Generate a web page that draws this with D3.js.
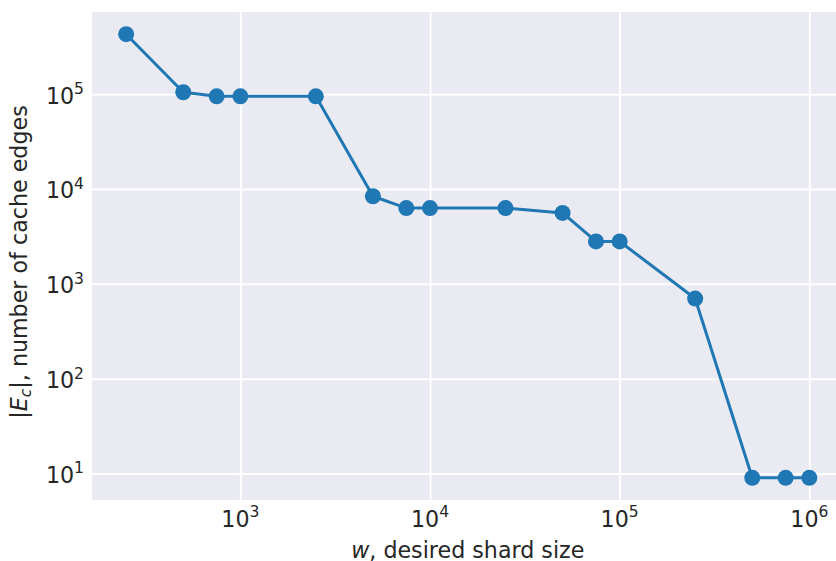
<!DOCTYPE html>
<html>
<head>
<meta charset="utf-8">
<script src="https://cdn.jsdelivr.net/npm/d3@7"></script>
<style>
  html, body { margin: 0; padding: 0; background: #fff; }
  svg { display: block; }
  text { font-family: "DejaVu Sans", sans-serif; fill: #262626; }
</style>
</head>
<body>
<svg id="chart" width="836" height="561"></svg>
<script>
// ---- data ----
const shardSizes = [250, 500, 750, 1000, 2500, 5000, 7500, 10000, 25000, 50000, 75000, 100000, 250000, 500000, 750000, 1000000];
const cacheEdges = [430000, 105000, 95000, 95000, 95000, 8400, 6300, 6300, 6300, 5600, 2800, 2800, 700, 9, 9, 9];
const xTickExponents = [3, 4, 5, 6];
const yTickExponents = [1, 2, 3, 4, 5];
const xLabel = "desired shard size";
const yLabelRest = ", number of cache edges";

// ---- layout ----
const plot = { left: 92, right: 843.5, top: 12, bottom: 500 };
const fontSize = 22.2;
const blue = "#1f77b4";

function logMargins(vals, frac) {
  const lo = Math.log10(d3.min(vals)), hi = Math.log10(d3.max(vals));
  const m = (hi - lo) * frac;
  return [Math.pow(10, lo - m), Math.pow(10, hi + m)];
}

const x = d3.scaleLog().domain(logMargins(shardSizes, 0.05)).range([plot.left, plot.right]);
const y = d3.scaleLog().domain(logMargins(cacheEdges, 0.05)).range([plot.bottom, plot.top]);

const svg = d3.select("#chart");

svg.append("clipPath").attr("id", "clip")
  .append("rect").attr("x", plot.left).attr("y", plot.top)
  .attr("width", plot.right - plot.left).attr("height", plot.bottom - plot.top);

// background
svg.append("rect")
  .attr("x", plot.left).attr("y", plot.top)
  .attr("width", plot.right - plot.left).attr("height", plot.bottom - plot.top)
  .attr("fill", "#eaeaf2");

const xTicks = xTickExponents.map(e => Math.pow(10, e));
const yTicks = yTickExponents.map(e => Math.pow(10, e));

// grid via axes
const gx = svg.append("g")
  .attr("transform", `translate(0,${plot.bottom})`)
  .call(d3.axisBottom(x).tickValues(xTicks).tickSize(-(plot.bottom - plot.top)).tickFormat(""));
gx.select(".domain").remove();
gx.selectAll(".tick line").attr("stroke", "#fff").attr("stroke-width", 2);

const gy = svg.append("g")
  .attr("transform", `translate(${plot.left},0)`)
  .call(d3.axisLeft(y).tickValues(yTicks).tickSize(-(plot.right - plot.left)).tickFormat(""));
gy.select(".domain").remove();
gy.selectAll(".tick line").attr("stroke", "#fff").attr("stroke-width", 2);

// tick labels with superscripts
function addPow(g, e, anchor) {
  const t = g.append("text").attr("font-size", fontSize).attr("text-anchor", anchor);
  t.append("tspan").text("10");
  t.append("tspan").attr("font-size", fontSize * 0.7).attr("dy", -fontSize * 0.42).text(String(e));
  return t;
}

xTickExponents.forEach(e => {
  const g = svg.append("g").attr("transform", `translate(${x(Math.pow(10, e))},526.5)`);
  const t = addPow(g, e, "start");
  const w = t.node().getComputedTextLength();
  t.attr("x", -w / 2);
});

yTickExponents.forEach(e => {
  const g = svg.append("g").attr("transform", `translate(84,${y(Math.pow(10, e)) + 9.3})`);
  addPow(g, e, "end");
});

// x label
const xl = svg.append("text")
  .attr("font-size", fontSize)
  .attr("text-anchor", "middle")
  .attr("x", (plot.left + plot.right) / 2)
  .attr("y", 557.5);
xl.append("tspan").attr("font-style", "italic").text("w");
xl.append("tspan").text(", " + xLabel);

// y label
const yl = svg.append("text")
  .attr("font-size", fontSize)
  .attr("text-anchor", "middle")
  .attr("transform", `translate(27,${(plot.top + plot.bottom) / 2 + 6}) rotate(-90)`);
yl.append("tspan").text("|");
yl.append("tspan").attr("font-style", "italic").text("E");
yl.append("tspan").attr("font-style", "italic").attr("font-size", fontSize * 0.7).attr("dy", fontSize * 0.2).text("c");
yl.append("tspan").attr("dy", -fontSize * 0.2).text("|" + yLabelRest);

// line + markers
const pts = shardSizes.map((s, i) => [s, cacheEdges[i]]);
const line = d3.line().x(d => x(d[0])).y(d => y(d[1]));

const gData = svg.append("g").attr("clip-path", "url(#clip)");
gData.append("path")
  .datum(pts)
  .attr("d", line)
  .attr("fill", "none")
  .attr("stroke", blue)
  .attr("stroke-width", 3)
  .attr("stroke-linejoin", "round");

gData.selectAll("circle")
  .data(pts)
  .join("circle")
  .attr("cx", d => x(d[0]))
  .attr("cy", d => y(d[1]))
  .attr("r", 8)
  .attr("fill", blue);
</script>
</body>
</html>
